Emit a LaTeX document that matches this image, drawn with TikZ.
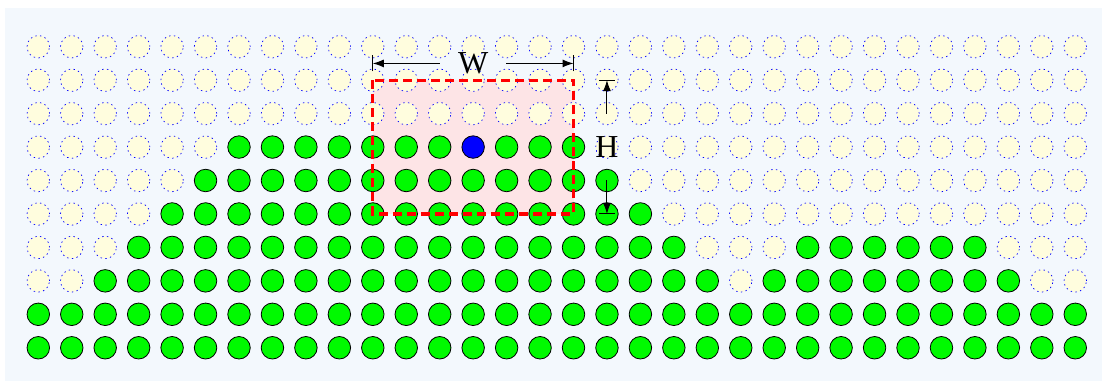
\documentclass[tikz,border=0pt]{standalone}
\usepackage{fontspec}
\setmainfont{Liberation Serif}
\usetikzlibrary{arrows.meta,calc}
\definecolor{bgblue}{RGB}{243,248,253}
\definecolor{cellyellow}{RGB}{255,253,222}
\definecolor{pinkfill}{RGB}{253,228,230}
\definecolor{brightgreen}{RGB}{0,250,0}
\begin{document}
\begin{tikzpicture}[x=1pt,y=-1pt,
  emptycell/.style={circle,minimum size=22.5pt,inner sep=0pt,fill=cellyellow,draw=blue,line width=0.7pt,dash pattern=on 1.4pt off 3.4pt},
  fullcell/.style={circle,minimum size=22.5pt,inner sep=0pt,fill=brightgreen,draw=black,line width=0.8pt},
  bluecell/.style={circle,minimum size=22.5pt,inner sep=0pt,fill=blue,draw=black,line width=0.8pt},
  winbox/.style={draw=red,line width=3.3pt,dash pattern=on 9pt off 5pt},
  dimline/.style={draw=black,line width=1pt,-{Latex[length=11pt,width=8pt]}},
  dimtick/.style={draw=black,line width=1pt},
  dimlabel/.style={font=\fontsize{32}{34}\selectfont,inner sep=0pt}
]
\useasboundingbox (0,0) rectangle (1102,381);
\fill[bgblue] (5,8) rectangle (1102,381);
% grid of cell centres
\foreach \c in {0,...,31}{
  \foreach \r in {0,...,9}{
    \coordinate (p-\c-\r) at ({38.3+33.45*\c},{46.7+33.45*\r});
  }
}
% pink window fill
\fill[pinkfill] (p-10-1) rectangle (p-16-5);
% cells
\foreach \c in {0,...,31}{
  \foreach \r in {0,...,9}{
    \pgfmathtruncatemacro{\g}{(\r>=8) || (\r==7 && ((\c>=2 && \c<=20) || (\c>=22 && \c<=29))) || (\r==6 && ((\c>=3 && \c<=19) || (\c>=23 && \c<=28))) || (\r==5 && \c>=4 && \c<=18) || (\r==4 && \c>=5 && \c<=17) || (\r==3 && \c>=6 && \c<=16)}
    \pgfmathtruncatemacro{\b}{(\r==3 && \c==13)}
    \ifnum\b=1
      \node[bluecell] (c-\c-\r) at (p-\c-\r) {};
    \else
      \ifnum\g=1
        \node[fullcell] (c-\c-\r) at (p-\c-\r) {};
      \else
        \node[emptycell] (c-\c-\r) at (p-\c-\r) {};
      \fi
    \fi
  }
}
% window border
\draw[winbox] (c-10-1.center) rectangle (c-16-5.center);
% W dimension
\node[dimlabel,minimum width=66pt] (W) at ($(c-13-0.center)!0.5!(c-13-1.center)$) {W};
\coordinate (wl) at (c-10-0.center |- W.center);
\coordinate (wr) at (c-16-0.center |- W.center);
\draw[dimtick] ([yshift=-8pt]wl) -- ([yshift=8pt]wl);
\draw[dimtick] ([yshift=-8pt]wr) -- ([yshift=8pt]wr);
\draw[dimline] (W.west) -- (wl);
\draw[dimline] (W.east) -- (wr);
% H dimension
\node[dimlabel,minimum height=66pt] (H) at (c-17-3.center) {H};
\coordinate (ht) at (c-17-1.center);
\coordinate (hb) at (c-17-5.center);
\draw[dimtick] ([xshift=-8pt]ht) -- ([xshift=8pt]ht);
\draw[dimtick] ([xshift=-8pt]hb) -- ([xshift=8pt]hb);
\draw[dimline] (H.north) -- (ht);
\draw[dimline] (H.south) -- (hb);
\end{tikzpicture}
\end{document}
